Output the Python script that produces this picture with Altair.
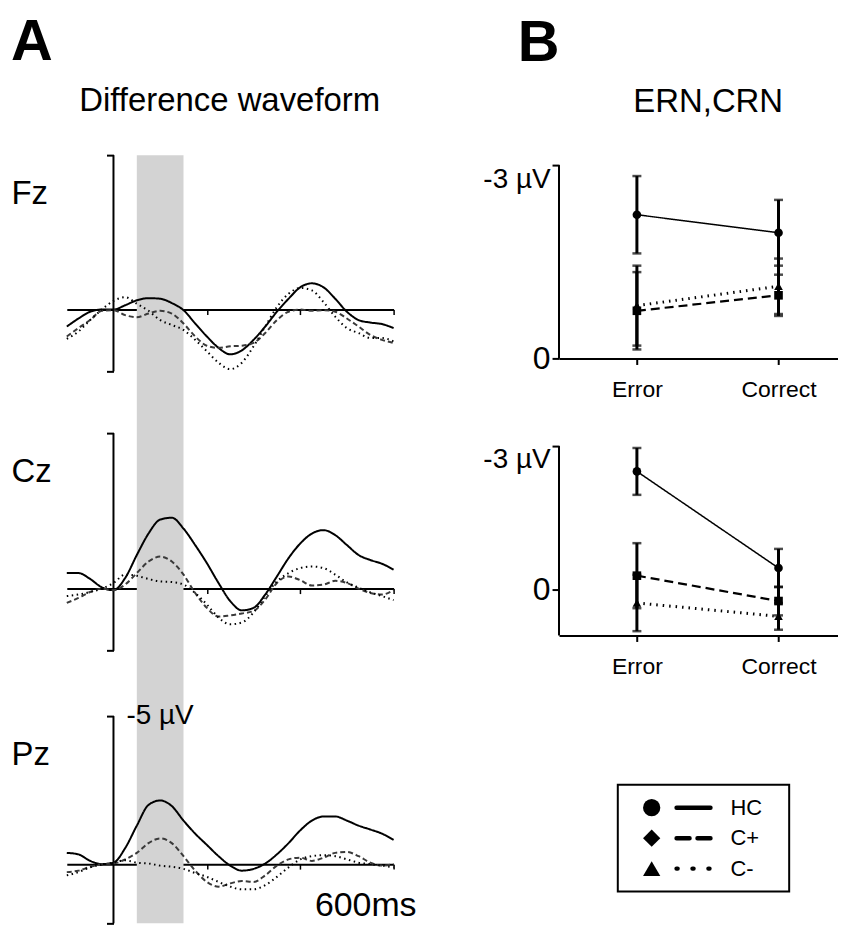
import altair as alt
import pandas as pd

FONT = "Liberation Sans"

# ---------------- Panel A: difference waveforms (µV, negative plotted upward) -------------
TIME_MS = [-100, -75, -50, -25, 0, 25, 50, 75, 100, 125, 150, 175, 200, 225, 250,
           275, 300, 325, 350, 375, 400, 425, 450, 475, 500, 525, 550, 575, 600]

FZ_HC = [0.55, 0.29, 0.07, 0.0, 0.0, -0.14, -0.30, -0.37, -0.35, -0.21, 0.02, 0.45, 0.87, 1.24, 1.45,
         1.32, 0.98, 0.55, 0.07, -0.35, -0.72, -0.85, -0.72, -0.35, 0.07, 0.34, 0.42, 0.47, 0.60]
FZ_CP = [0.87, 0.60, 0.34, 0.04, 0.02, 0.18, 0.25, 0.13, 0.04, 0.13, 0.45, 0.87, 1.17, 1.24, 1.19,
         1.17, 1.08, 0.76, 0.34, 0.07, 0.0, 0.04, 0.02, 0.07, 0.29, 0.55, 0.82, 0.98, 1.08]
FZ_CM = [0.95, 0.71, 0.34, 0.0, -0.28, -0.40, -0.19, 0.04, 0.34, 0.50, 0.66, 0.98, 1.35, 1.72, 1.93,
         1.72, 1.19, 0.55, -0.08, -0.51, -0.70, -0.62, -0.24, 0.23, 0.60, 0.76, 0.92, 0.92, 1.03]

CZ_HC = [-0.50, -0.50, -0.31, -0.04, 0.05, -0.34, -1.08, -1.77, -2.22, -2.28, -1.93, -1.40, -0.82, -0.18, 0.40,
         0.70, 0.62, 0.19, -0.39, -0.98, -1.45, -1.77, -1.88, -1.72, -1.40, -1.08, -0.92, -0.80, -0.61]
CZ_CP = [0.46, 0.30, 0.11, 0.0, 0.05, -0.13, -0.50, -0.87, -1.03, -0.87, -0.45, 0.14, 0.62, 0.90, 0.86,
         0.80, 0.72, 0.35, -0.18, -0.39, -0.27, -0.10, -0.13, -0.25, -0.18, 0.0, 0.14, 0.19, 0.05]
CZ_CM = [0.24, 0.19, 0.11, 0.0, -0.18, -0.45, -0.41, -0.31, -0.23, -0.21, -0.13, 0.14, 0.51, 0.93, 1.15,
         1.09, 0.77, 0.24, -0.23, -0.50, -0.66, -0.71, -0.66, -0.45, -0.20, -0.03, 0.12, 0.24, 0.37]

PZ_HC = [-0.38, -0.33, -0.11, 0.0, -0.05, -0.54, -1.30, -2.00, -2.15, -1.96, -1.47, -1.03, -0.65, -0.27, 0.05,
         0.22, 0.16, -0.02, -0.33, -0.71, -1.14, -1.47, -1.61, -1.61, -1.47, -1.30, -1.17, -1.03, -0.82]
PZ_CP = [0.27, 0.22, 0.09, 0.0, -0.02, -0.16, -0.38, -0.71, -0.87, -0.71, -0.27, 0.22, 0.60, 0.76, 0.65,
         0.57, 0.60, 0.38, 0.05, -0.16, -0.22, -0.11, -0.22, -0.38, -0.41, -0.27, -0.05, 0.05, 0.0]
PZ_CM = [0.38, 0.27, 0.11, 0.02, -0.05, -0.13, -0.05, -0.02, 0.05, 0.09, 0.16, 0.30, 0.43, 0.60, 0.76,
         0.85, 0.85, 0.71, 0.43, 0.11, -0.16, -0.27, -0.30, -0.27, -0.16, -0.05, 0.0, 0.05, 0.11]

SERIES = ["HC", "C+", "C-"]
CHANNELS = ["Fz", "Cz", "Pz"]
WAVES = {
    "Fz": [FZ_HC, FZ_CP, FZ_CM],
    "Cz": [CZ_HC, CZ_CP, CZ_CM],
    "Pz": [PZ_HC, PZ_CP, PZ_CM],
}
BAND_MS = [50, 150]          # shaded analysis window
X_DOMAIN = [-100, 600]
SCALE_BAR = [-5, 2]          # µV extent of the vertical calibration bar
X_TICKS = [200, 400, 600]

# ---------------- Panel B: ERN / CRN amplitudes ----------------
CONDITIONS = ["Error", "Correct"]
B_TOP_MEAN = {"HC": [-2.23, -1.95], "C+": [-0.74, -0.98], "C-": [-0.82, -1.12]}
B_TOP_ERR = {"HC": [0.60, 0.51], "C+": [0.60, 0.32], "C-": [0.62, 0.43]}
B_BOT_MEAN = {"HC": [-2.47, -0.45], "C+": [-0.29, 0.24], "C-": [0.28, 0.56]}
B_BOT_ERR = {"HC": [0.49, 0.40], "C+": [0.68, 0.30], "C-": [0.59, 0.28]}
B_TOP_RANGE = [-3, 0]
B_BOT_RANGE = [-3, 0.96]
B_TICKS = [-3, 0]

# ---------------- styling ----------------
LINE_DASH = [[1, 0], [5, 3], [1.5, 3.5]]
LINE_COLOR = ["black", "#3a3a3a", "black"]
B_DASH = [[1, 0], [9, 5], [1.5, 5]]
B_WIDTH = [1.5, 3, 3]
B_SHAPES = ["circle", "square", "triangle-up"]
LEG_SHAPES = ["circle", "diamond", "triangle-up"]
LEG_DASH = [[1, 0], [13, 8], [1, 15]]

wave_rows = []
for ch in CHANNELS:
    for s, vals in zip(SERIES, WAVES[ch]):
        for t, v in zip(TIME_MS, vals):
            wave_rows.append({"channel": ch, "series": s, "time": t, "uv": v})
wave_df = pd.DataFrame(wave_rows)
band_df = pd.DataFrame({"start": [BAND_MS[0]], "end": [BAND_MS[1]]})
bar_df = pd.DataFrame({"t": [0], "lo": [SCALE_BAR[0]], "hi": [SCALE_BAR[1]]})

PANEL_W = 328
PANEL_SPECS = {"Fz": (4.0, 279), "Cz": (4.1, 284), "Pz": (2.0, 208)}


def wave_panel(ch):
    ymax, h = PANEL_SPECS[ch]
    y0 = h * 5.0 / (ymax + 5.0)
    xoff = -(h - y0)
    yoff = -(PANEL_W * (0 - X_DOMAIN[0]) / (X_DOMAIN[1] - X_DOMAIN[0]))
    xs = alt.Scale(domain=X_DOMAIN, nice=False, zero=False)
    ys = alt.Scale(domain=[-5, ymax], reverse=True, nice=False, zero=False)
    xax = alt.Axis(values=X_TICKS, labels=False, title=None, tickSize=5, tickWidth=1.5,
                   tickColor="black", domainColor="black", domainWidth=2, offset=xoff, grid=False)
    yax = alt.Axis(values=SCALE_BAR, labels=False, domain=False, tickSize=7, tickWidth=2,
                   tickColor="black", offset=yoff, grid=False, title=ch, titleAngle=0,
                   titleAlign="left", titleBaseline="middle", titleX=yoff - 56, titleY=39,
                   titleFontSize=33, titleFontWeight="normal", titleFont=FONT, titleColor="black")
    d = wave_df[wave_df.channel == ch]
    band = alt.Chart(band_df).mark_rect(color="#d3d3d3").encode(
        x=alt.X("start:Q", scale=xs, axis=xax), x2="end:Q")
    bar = alt.Chart(bar_df).mark_rule(color="black", strokeWidth=2).encode(
        x=alt.X("t:Q", scale=xs, axis=xax), y=alt.Y("lo:Q", scale=ys, axis=yax), y2="hi:Q")
    lines = alt.Chart(d).mark_line(interpolate="monotone", strokeWidth=2).encode(
        x=alt.X("time:Q", scale=xs, axis=xax),
        y=alt.Y("uv:Q", scale=ys, axis=yax),
        detail="series:N",
        stroke=alt.Stroke("series:N", scale=alt.Scale(domain=SERIES, range=LINE_COLOR), legend=None),
        strokeDash=alt.StrokeDash("series:N", scale=alt.Scale(domain=SERIES, range=LINE_DASH), legend=None),
    )
    layers = [band, bar, lines]
    if ch == "Pz":
        lab = alt.Chart(bar_df).mark_text(align="left", baseline="middle", dx=13, fontSize=28,
                                          font=FONT, color="black").encode(
            x=alt.X("t:Q", scale=xs), y=alt.Y("lo:Q", scale=ys), text=alt.value("-5 µV"))
        ms = alt.Chart(pd.DataFrame({"t": [X_DOMAIN[1]], "v": [SCALE_BAR[1]]})).mark_text(
            align="right", baseline="bottom", dx=23, fontSize=34, font=FONT, color="black").encode(
            x=alt.X("t:Q", scale=xs), y=alt.Y("v:Q", scale=ys), text=alt.value("600ms"))
        layers += [lab, ms]
    return alt.layer(*layers).properties(width=PANEL_W, height=h)


B_W = 280
B_XDOM = [-0.55, 1.42]
B_TOP_GAP = 10   # px of empty room above the -3 µV tick


def b_panel(means, errs, yrange, px_per_uv):
    rows = []
    for s in SERIES:
        for i, (c, m, e) in enumerate(zip(CONDITIONS, means[s], errs[s])):
            rows.append({"series": s, "cond": c, "xi": i, "mean": m, "lo": m - e, "hi": m + e})
    df = pd.DataFrame(rows)
    ytop = yrange[0] - B_TOP_GAP / px_per_uv
    h = (yrange[1] - ytop) * px_per_uv
    xs = alt.Scale(domain=B_XDOM, nice=False, zero=False)
    ys = alt.Scale(domain=[ytop, yrange[1]], reverse=True, nice=False, zero=False)
    xax = alt.Axis(title=None, values=[0, 1], labelExpr="datum.value == 0 ? 'Error' : 'Correct'",
                   labelFontSize=23, labelFont=FONT, labelColor="black", labelPadding=14,
                   labelAngle=0, tickSize=6, tickWidth=2, tickColor="black", grid=False,
                   domainColor="black", domainWidth=2)
    yax = alt.Axis(values=B_TICKS, title=None, grid=False, tickSize=7, tickWidth=2, tickColor="black",
                   domain=False, labelFont=FONT, labelColor="black", labelPadding=2,
                   labelExpr="datum.value == 0 ? '0' : '-3 µV'",
                   labelFontSize={"condition": {"test": "datum.value == 0", "value": 32}, "value": 28},
                   labelBaseline={"condition": {"test": "datum.value == 0", "value": "middle"}, "value": "top"})
    base = alt.Chart(df).encode(x=alt.X("xi:Q", scale=xs, axis=xax))
    yaxis_line = alt.Chart(pd.DataFrame({"x": [B_XDOM[0]], "lo": [yrange[0]], "hi": [yrange[1]]})).mark_rule(
        color="black", strokeWidth=2).encode(
        x=alt.X("x:Q", scale=xs, axis=xax), y=alt.Y("lo:Q", scale=ys, axis=yax), y2="hi:Q")
    lines = base.mark_line(color="black").encode(
        y=alt.Y("mean:Q", scale=ys, axis=yax),
        detail="series:N",
        strokeDash=alt.StrokeDash("series:N", scale=alt.Scale(domain=SERIES, range=B_DASH), legend=None),
        strokeWidth=alt.StrokeWidth("series:N", scale=alt.Scale(domain=SERIES, range=B_WIDTH), legend=None),
    )
    rules = base.mark_rule(color="black", strokeWidth=3).encode(
        y=alt.Y("lo:Q", scale=ys, axis=yax), y2="hi:Q")
    caps_lo = base.mark_tick(color="black", size=9, thickness=2.5, orient="horizontal").encode(
        y=alt.Y("lo:Q", scale=ys, axis=yax))
    caps_hi = base.mark_tick(color="black", size=9, thickness=2.5, orient="horizontal").encode(
        y=alt.Y("hi:Q", scale=ys, axis=yax))
    pts = base.mark_point(filled=True, color="black", size=75, opacity=1).encode(
        y=alt.Y("mean:Q", scale=ys, axis=yax),
        shape=alt.Shape("series:N", scale=alt.Scale(domain=SERIES, range=B_SHAPES), legend=None),
    )
    return alt.layer(yaxis_line, lines, rules, caps_lo, caps_hi, pts).properties(width=B_W, height=h)


def legend_panel():
    df = pd.DataFrame({"series": SERIES})
    ys = alt.Scale(domain=SERIES, padding=0.5)
    box = alt.Chart(pd.DataFrame({"k": [0]})).mark_rect(filled=False, stroke="black", strokeWidth=2).encode(
        x=alt.value(59), x2=alt.value(231), y=alt.value(0), y2=alt.value(107))
    base = alt.Chart(df).encode(y=alt.Y("series:N", scale=ys, axis=None, sort=SERIES))
    pts = base.mark_point(filled=True, color="black", opacity=1, size=300).encode(
        x=alt.value(93),
        shape=alt.Shape("series:N", scale=alt.Scale(domain=SERIES, range=LEG_SHAPES), legend=None))
    segs = base.mark_rule(color="black", strokeWidth=4.5, strokeCap="round").encode(
        x=alt.value(118), x2=alt.value(152),
        strokeDash=alt.StrokeDash("series:N", scale=alt.Scale(domain=SERIES, range=LEG_DASH), legend=None))
    txt = base.mark_text(align="left", baseline="middle", fontSize=22, font=FONT, color="black").encode(
        x=alt.value(172), text="series:N")
    return alt.layer(box, segs, pts, txt).properties(width=B_W, height=107)


INDEP = dict(shape="independent", strokeDash="independent", strokeWidth="independent",
             stroke="independent", x="independent", y="independent")

left_inner = alt.vconcat(*[wave_panel(c) for c in CHANNELS], spacing=0, bounds="flush",
                         title=alt.TitleParams("Difference waveform", fontSize=33, fontWeight="normal",
                                               font=FONT, anchor="middle", offset=36, dx=16,
                                               color="black")).resolve_scale(**INDEP)
left = alt.vconcat(left_inner, title=alt.TitleParams("A", fontSize=58, fontWeight="bold", font=FONT,
                                                     anchor="start", offset=13, color="black"))

b_stack = alt.vconcat(
    b_panel(B_TOP_MEAN, B_TOP_ERR, B_TOP_RANGE, 64.7),
    b_panel(B_BOT_MEAN, B_BOT_ERR, B_BOT_RANGE, 48.0),
    spacing=77, bounds="flush").resolve_scale(**INDEP)

right_inner = alt.vconcat(
    b_stack, legend_panel(), spacing=105,
    title=alt.TitleParams("ERN,CRN", fontSize=33, fontWeight="normal", font=FONT, anchor="middle",
                          offset=36, dx=48, color="black")).resolve_scale(**INDEP)
right = alt.vconcat(right_inner, title=alt.TitleParams("B", fontSize=58, fontWeight="bold", font=FONT,
                                                       anchor="start", offset=13, dx=35, color="black"))

chart = alt.hconcat(left, right, spacing=66).resolve_scale(**INDEP).properties(
    padding={"left": 2, "top": 5, "right": 0, "bottom": 0}
).configure(font=FONT, view=alt.ViewConfig(stroke=None))

chart.save("out.html", embed_options={"renderer": "svg", "actions": False})
